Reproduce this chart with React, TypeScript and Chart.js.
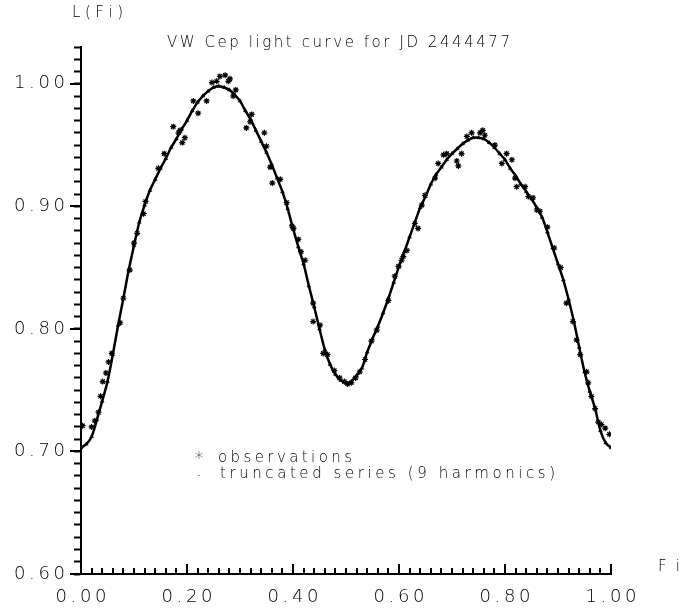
import React, { useEffect, useRef } from 'react';
import { Chart, registerables } from 'chart.js';

Chart.register(...registerables);

// ---- texts ----
const TITLE = 'VW Cep light curve for JD 2444477';
const Y_TITLE = 'L(Fi)';
const X_TITLE = 'Fi';
const LEGEND_OBS = 'observations';
const LEGEND_FIT = 'truncated series (9 harmonics)';

// ---- axes ----
const X_MIN = 0;
const X_MAX = 1;
const Y_MIN = 0.6;
const Y_MAX = 1.03;
const X_TICKS = [0, 0.2, 0.4, 0.6, 0.8, 1.0];
const X_TICK_LABELS = ['0.00', '0.20', '0.40', '0.60', '0.80', '1.00'];
const Y_TICKS = [0.6, 0.7, 0.8, 0.9, 1.0];
const Y_TICK_LABELS = ['0.60', '0.70', '0.80', '0.90', '1.00'];
const X_MINOR_TICKS = [
  0.00, 0.02, 0.04, 0.06, 0.08, 0.10, 0.12, 0.14, 0.16, 0.18,
  0.20, 0.22, 0.24, 0.26, 0.28, 0.30, 0.32, 0.34, 0.36, 0.38,
  0.40, 0.42, 0.44, 0.46, 0.48, 0.50, 0.52, 0.54, 0.56, 0.58,
  0.60, 0.62, 0.64, 0.66, 0.68, 0.70, 0.72, 0.74, 0.76, 0.78,
  0.80, 0.82, 0.84, 0.86, 0.88, 0.90, 0.92, 0.94, 0.96, 0.98, 1.00,
];
const Y_MINOR_TICKS = [
  0.60, 0.61, 0.62, 0.63, 0.64, 0.65, 0.66, 0.67, 0.68, 0.69,
  0.70, 0.71, 0.72, 0.73, 0.74, 0.75, 0.76, 0.77, 0.78, 0.79,
  0.80, 0.81, 0.82, 0.83, 0.84, 0.85, 0.86, 0.87, 0.88, 0.89,
  0.90, 0.91, 0.92, 0.93, 0.94, 0.95, 0.96, 0.97, 0.98, 0.99,
  1.00, 1.01, 1.02, 1.03,
];

// ---- truncated series (phase, L) ----
const FIT_PHASE = [
  0.00, 0.01, 0.02, 0.03, 0.04, 0.05, 0.06, 0.07, 0.08, 0.09,
  0.10, 0.11, 0.12, 0.13, 0.14, 0.15, 0.16, 0.17, 0.18, 0.19,
  0.20, 0.21, 0.22, 0.23, 0.24, 0.25, 0.26, 0.27, 0.28, 0.29,
  0.30, 0.31, 0.32, 0.33, 0.34, 0.35, 0.36, 0.37, 0.38, 0.39,
  0.40, 0.41, 0.42, 0.43, 0.44, 0.45, 0.46, 0.47, 0.48, 0.49,
  0.50, 0.51, 0.52, 0.53, 0.54, 0.55, 0.56, 0.57, 0.58, 0.59,
  0.60, 0.61, 0.62, 0.63, 0.64, 0.65, 0.66, 0.67, 0.68, 0.69,
  0.70, 0.71, 0.72, 0.73, 0.74, 0.75, 0.76, 0.77, 0.78, 0.79,
  0.80, 0.81, 0.82, 0.83, 0.84, 0.85, 0.86, 0.87, 0.88, 0.89,
  0.90, 0.91, 0.92, 0.93, 0.94, 0.95, 0.96, 0.97, 0.98, 0.99,
  1.00,
];
const FIT_L = [
  0.703, 0.706, 0.712, 0.726, 0.741, 0.757, 0.779, 0.803, 0.825, 0.848,
  0.868, 0.887, 0.901, 0.913, 0.922, 0.931, 0.939, 0.948, 0.955, 0.963,
  0.970, 0.978, 0.985, 0.990, 0.994, 0.997, 0.998, 0.997, 0.995, 0.991,
  0.986, 0.978, 0.971, 0.962, 0.953, 0.944, 0.934, 0.923, 0.912, 0.898,
  0.882, 0.867, 0.853, 0.835, 0.818, 0.800, 0.783, 0.771, 0.763, 0.758,
  0.756, 0.757, 0.762, 0.768, 0.781, 0.792, 0.802, 0.813, 0.825, 0.838,
  0.851, 0.863, 0.875, 0.887, 0.899, 0.908, 0.918, 0.926, 0.932, 0.938,
  0.943, 0.947, 0.951, 0.954, 0.956, 0.956, 0.955, 0.952, 0.948, 0.943,
  0.938, 0.931, 0.925, 0.918, 0.912, 0.906, 0.899, 0.891, 0.879, 0.866,
  0.853, 0.840, 0.824, 0.806, 0.785, 0.765, 0.749, 0.735, 0.717, 0.707,
  0.703,
];

// ---- observations ----
const OBS_PHASE = [
  0.003, 0.020, 0.026, 0.033, 0.037, 0.041, 0.047, 0.052, 0.058, 0.074,
  0.080, 0.092, 0.100, 0.106, 0.118, 0.122, 0.146, 0.157, 0.174, 0.184,
  0.187, 0.191, 0.196, 0.212, 0.221, 0.237, 0.247, 0.256, 0.262, 0.272,
  0.278, 0.281, 0.287, 0.292, 0.312, 0.319, 0.322, 0.346, 0.350, 0.357,
  0.361, 0.376, 0.388, 0.398, 0.401, 0.410, 0.415, 0.423, 0.438, 0.438,
  0.451, 0.457, 0.465, 0.478, 0.488, 0.497, 0.503, 0.510, 0.518, 0.526,
  0.536, 0.548, 0.558, 0.580, 0.592, 0.599, 0.605, 0.608, 0.615, 0.630,
  0.636, 0.643, 0.649, 0.668, 0.674, 0.684, 0.690, 0.709, 0.712, 0.718,
  0.728, 0.737, 0.753, 0.758, 0.762, 0.781, 0.794, 0.803, 0.813, 0.819,
  0.822, 0.838, 0.844, 0.853, 0.860, 0.866, 0.880, 0.893, 0.905, 0.916,
  0.928, 0.935, 0.942, 0.954, 0.957, 0.963, 0.970, 0.976, 0.982, 0.989,
  0.997,
];
const OBS_L = [
  0.721, 0.720, 0.725, 0.732, 0.745, 0.757, 0.764, 0.773, 0.780, 0.805,
  0.825, 0.848, 0.870, 0.878, 0.894, 0.904, 0.931, 0.943, 0.965, 0.960,
  0.962, 0.952, 0.956, 0.986, 0.976, 0.986, 1.001, 1.002, 1.006, 1.007,
  1.002, 1.004, 0.990, 0.995, 0.964, 0.969, 0.975, 0.960, 0.949, 0.932,
  0.919, 0.922, 0.903, 0.884, 0.882, 0.873, 0.863, 0.856, 0.821, 0.806,
  0.803, 0.780, 0.779, 0.766, 0.760, 0.757, 0.755, 0.756, 0.760, 0.765,
  0.775, 0.790, 0.799, 0.823, 0.843, 0.851, 0.856, 0.859, 0.864, 0.886,
  0.882, 0.901, 0.909, 0.923, 0.935, 0.942, 0.943, 0.937, 0.933, 0.943,
  0.957, 0.960, 0.960, 0.962, 0.958, 0.950, 0.935, 0.943, 0.938, 0.923,
  0.916, 0.916, 0.908, 0.907, 0.897, 0.896, 0.883, 0.866, 0.850, 0.821,
  0.806, 0.791, 0.779, 0.765, 0.756, 0.745, 0.735, 0.724, 0.722, 0.719,
  0.714,
];

const FONT_FAMILY = '"DejaVu Sans", "Liberation Sans", sans-serif';

function drawFitted(
  ctx: CanvasRenderingContext2D,
  text: string,
  left: number,
  cy: number,
  width: number
) {
  const chars = Array.from(text);
  const widths = chars.map((c) => ctx.measureText(c).width);
  const sum = widths.reduce((a, b) => a + b, 0);
  const gap = chars.length > 1 ? (width - sum) / (chars.length - 1) : 0;
  let x = left;
  ctx.textAlign = 'left';
  ctx.textBaseline = 'middle';
  chars.forEach((c, i) => {
    ctx.fillText(c, x, cy);
    x += widths[i] + gap;
  });
}

const isMajor = (v: number, step: number) => {
  const r = v / step;
  return Math.abs(r - Math.round(r)) < 1e-6;
};

const frame = {
  id: 'frame',
  afterDraw(chart: any) {
    const { ctx } = chart;
    const xs = chart.scales.x;
    const ys = chart.scales.y;
    const xl = Math.round(xs.getPixelForValue(X_MIN));
    const xr = Math.round(xs.getPixelForValue(X_MAX));
    const yb = Math.round(ys.getPixelForValue(Y_MIN));
    ctx.save();
    ctx.fillStyle = '#000';
    // x axis line
    ctx.fillRect(xl - 1, yb - 1, xr - xl + 2, 2);

    // longer major y ticks (minor ones are drawn by the y scale itself)
    Y_TICKS.forEach((v) => {
      const py = Math.round(ys.getPixelForValue(v));
      ctx.fillRect(xl - 11, py - 1, 11, 2);
    });
    // x ticks pointing up into the plot
    X_MINOR_TICKS.forEach((v) => {
      const px = Math.round(xs.getPixelForValue(v));
      const len = isMajor(v, 0.2) ? 10 : 6;
      ctx.fillRect(px - 1, yb - len, 2, len);
    });

    ctx.font = `200 18px ${FONT_FAMILY}`;
    Y_TICKS.forEach((v, i) => {
      const py = ys.getPixelForValue(v);
      drawFitted(ctx, Y_TICK_LABELS[i], xl - 67, py, 51);
    });
    X_TICKS.forEach((v, i) => {
      const px = xs.getPixelForValue(v);
      drawFitted(ctx, X_TICK_LABELS[i], px - 25.5, yb + 23, 51);
    });

    ctx.font = `200 15px ${FONT_FAMILY}`;
    drawFitted(ctx, TITLE, 167, 43, 343);
    drawFitted(ctx, Y_TITLE, 72, 13, 51);
    drawFitted(ctx, X_TITLE, 658, 567, 22);

    drawFitted(ctx, LEGEND_OBS, 218, 458, 134);
    drawFitted(ctx, LEGEND_FIT, 220, 474, 335);
    ctx.font = `200 17px ${FONT_FAMILY}`;
    ctx.textAlign = 'center';
    ctx.textBaseline = 'middle';
    ctx.fillText('*', 199, 460);
    ctx.fillText('.', 199, 472);
    ctx.restore();
  },
};

export default function App() {
  const ref = useRef<HTMLCanvasElement>(null);
  useEffect(() => {
    if (!ref.current) return;
    const chart = new Chart(ref.current, {
      type: 'scatter',
      data: {
        datasets: [
          {
            label: LEGEND_OBS,
            data: OBS_PHASE.map((x, i) => ({ x, y: OBS_L[i] })),
            pointStyle: 'star',
            pointRadius: 3,
            borderColor: '#000',
            backgroundColor: '#000',
            borderWidth: 1.2,
            showLine: false,
          },
          {
            label: LEGEND_FIT,
            data: FIT_PHASE.map((x, i) => ({ x, y: FIT_L[i] })),
            pointStyle: 'triangle',
            pointRadius: 2.2,
            borderColor: '#000',
            backgroundColor: '#000',
            borderWidth: 2.5,
            pointBorderWidth: 0.5,
            showLine: true,
            tension: 0.3,
          },
        ],
      },
      options: {
        animation: false,
        responsive: false,
        events: [],
        layout: { padding: { left: 71, right: 80, top: 47, bottom: 36 } },
        plugins: {
          legend: { display: false },
          title: { display: false },
          tooltip: { enabled: false },
        },
        scales: {
          x: { type: 'linear', min: X_MIN, max: X_MAX, display: false },
          y: {
            type: 'linear',
            min: Y_MIN,
            max: Y_MAX,
            display: true,
            position: 'left',
            border: { display: true, color: '#000', width: 2 },
            grid: {
              display: true,
              drawOnChartArea: false,
              drawTicks: true,
              tickLength: 7,
              tickWidth: 2,
              tickColor: '#000',
            },
            ticks: { display: false },
            afterBuildTicks: (scale: any) => {
              scale.ticks = Y_MINOR_TICKS.map((value) => ({ value }));
            },
            afterFit: (scale: any) => {
              scale.width = 10;
            },
          },
        },
      },
      plugins: [frame],
    });
    return () => chart.destroy();
  }, []);
  return (
    <div style={{ position: 'absolute', left: 0, top: 0, width: 691, height: 610, background: '#fff' }}>
      <canvas ref={ref} width={691} height={610} style={{ display: 'block' }} />
    </div>
  );
}
